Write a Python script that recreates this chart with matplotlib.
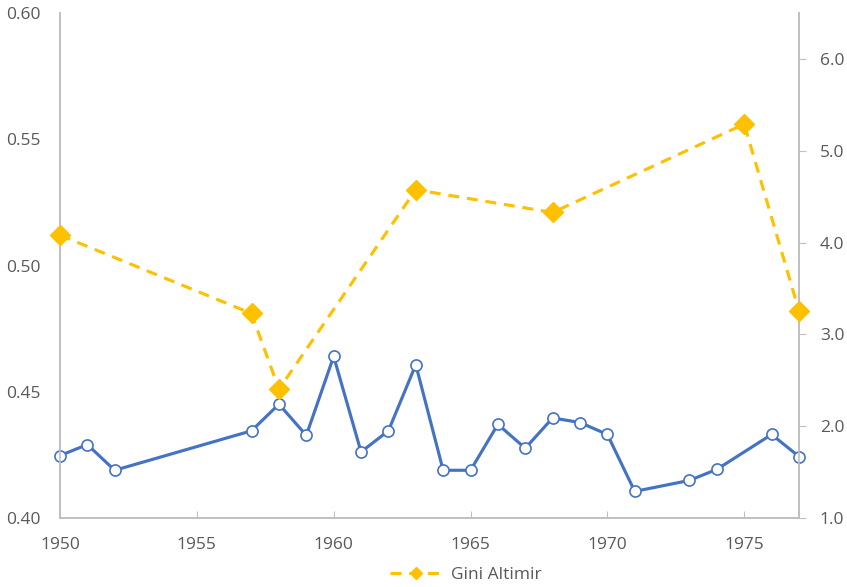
import matplotlib
matplotlib.use("Agg")
import matplotlib.pyplot as plt
from matplotlib.ticker import FormatStrFormatter

# Gini Altimir (left axis)
gini_years = [1950, 1957, 1958, 1963, 1968, 1975, 1977]
gini_altimir = [0.512, 0.481, 0.451, 0.530, 0.521, 0.556, 0.482]

# second series, no legend entry (right axis)
ratio_years = [1950, 1951, 1952, 1957, 1958, 1959, 1960, 1961, 1962, 1963, 1964,
               1965, 1966, 1967, 1968, 1969, 1970, 1971, 1973, 1974, 1976, 1977]
ratio_vals = [1.68, 1.80, 1.52, 1.95, 2.24, 1.90, 2.76, 1.72, 1.95, 2.67, 1.52,
              1.52, 2.02, 1.76, 2.09, 2.04, 1.91, 1.29, 1.41, 1.53, 1.91, 1.67]

x_ticks = [1950, 1955, 1960, 1965, 1970, 1975]

plt.rcParams['font.family'] = ['Open Sans', 'DejaVu Sans']
grey = '#595959'
spine_c = '#BFBFBF'

fig = plt.figure(figsize=(8.47, 5.87), dpi=100)
ax = fig.add_axes([0.0708, 0.1175, 0.8725, 0.8604])
ax2 = ax.twinx()

ax.plot(gini_years, gini_altimir, color='#FFC000', lw=2.25, ls=(0, (3.5, 2.5)),
        marker='D', ms=10, mec='#FFC000', mfc='#FFC000', label='Gini Altimir',
        zorder=3, clip_on=False)
ax2.plot(ratio_years, ratio_vals, color='#4472C4', lw=2.25, marker='o', ms=8,
         mfc='white', mec='#4472C4', mew=1.2, zorder=3, clip_on=False)
ax.set_zorder(ax2.get_zorder() + 1)
ax.patch.set_visible(False)

ax.set_xlim(1950, 1977)
ax.set_ylim(0.40, 0.60)
ax2.set_ylim(1.0, 6.5)
ax.set_xticks(x_ticks)
ax.set_yticks([0.40, 0.45, 0.50, 0.55, 0.60])
ax2.set_yticks([1.0, 2.0, 3.0, 4.0, 5.0, 6.0])
ax.yaxis.set_major_formatter(FormatStrFormatter('%.2f'))
ax2.yaxis.set_major_formatter(FormatStrFormatter('%.1f'))

for a in (ax, ax2):
    for s in a.spines.values():
        s.set_color(spine_c)
        s.set_linewidth(1.2)
    a.spines['top'].set_visible(False)
ax.tick_params(axis='x', direction='in', length=5, color=spine_c, labelsize=12.5,
               labelcolor=grey, pad=14)
ax.tick_params(axis='y', length=0, labelsize=12.5, labelcolor=grey, pad=14)
ax2.tick_params(axis='y', direction='out', length=5, color=spine_c, labelsize=12.5,
                labelcolor=grey, pad=10)

fig.legend(loc='lower center', bbox_to_anchor=(0.55, -0.02), frameon=False,
           fontsize=12.5, labelcolor=grey, handlelength=3.0, handletextpad=0.5,
           markerscale=0.65)

fig.savefig('out.png', dpi=100)
